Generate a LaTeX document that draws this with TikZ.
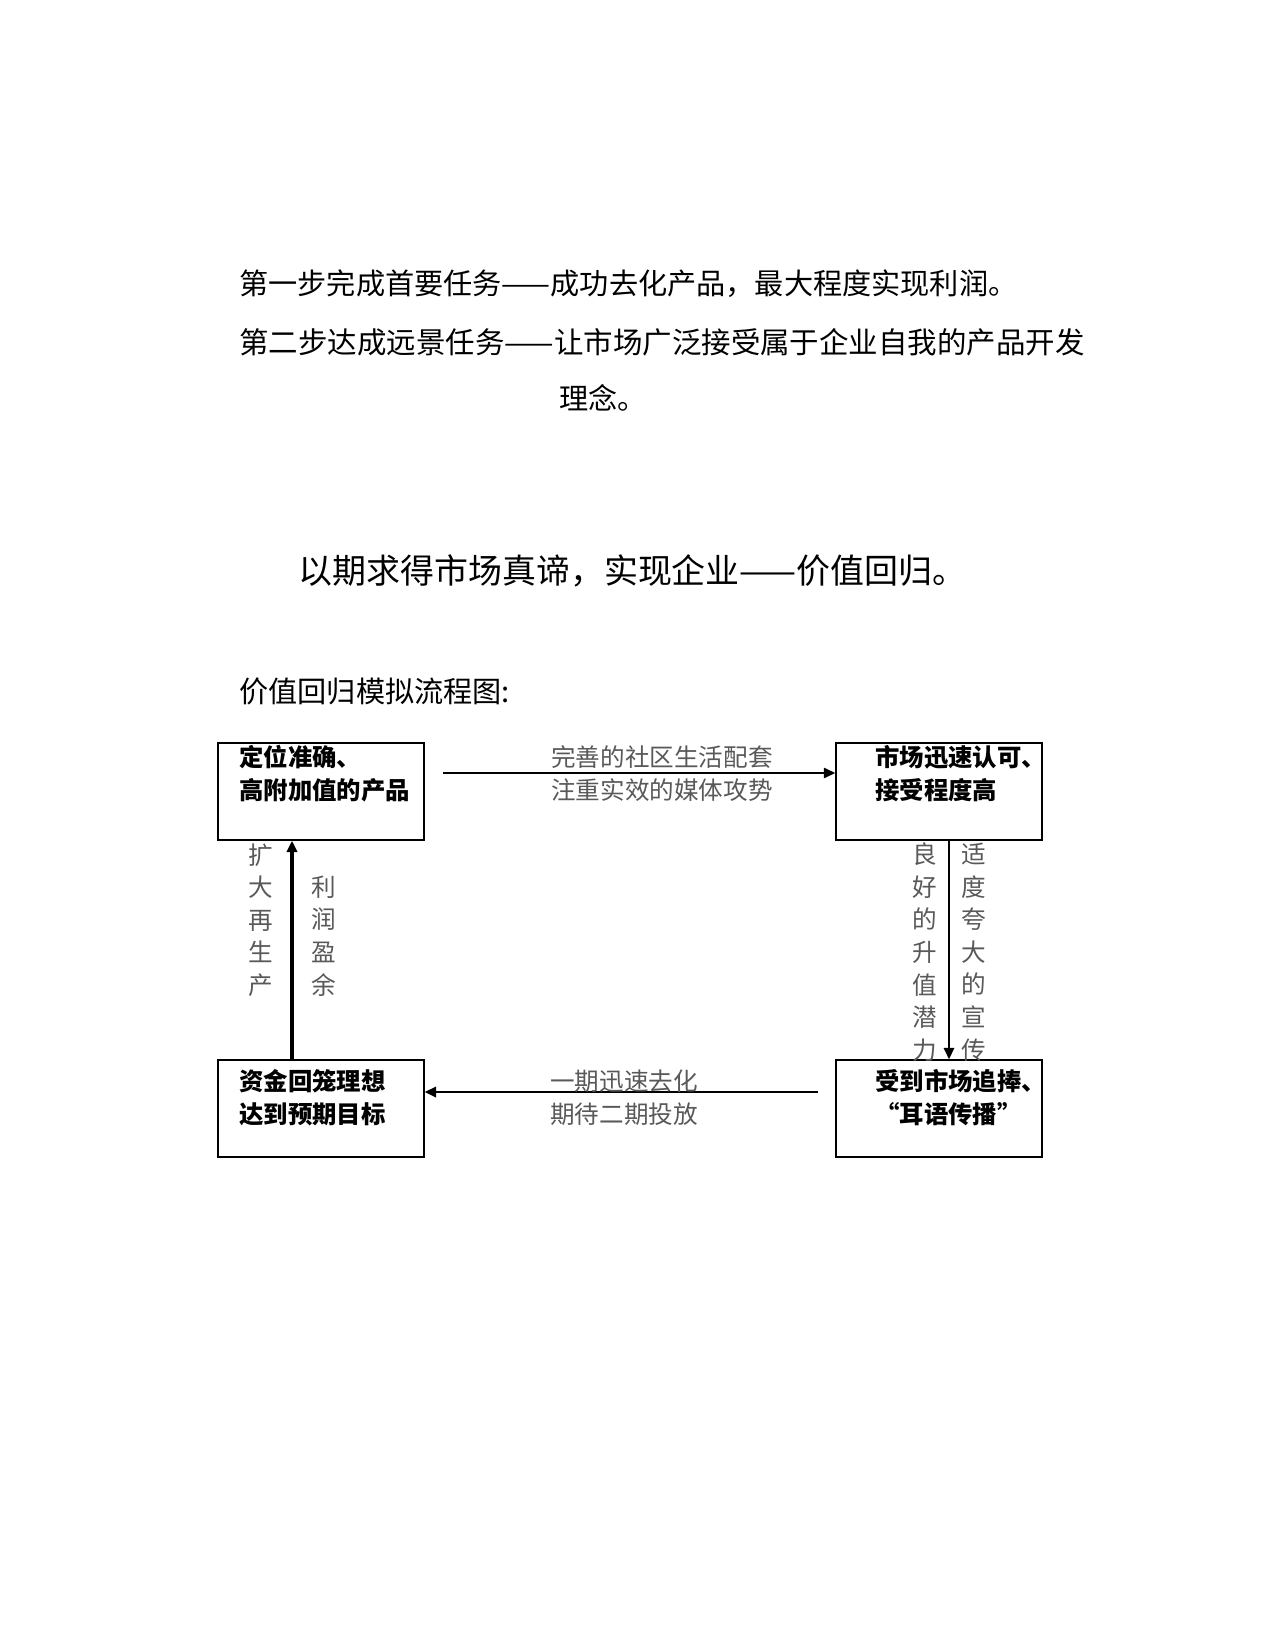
\documentclass[tikz,border=0pt]{standalone}
\usepackage{fontspec}
\newfontfamily\cjk{Noto Sans CJK SC}
\usetikzlibrary{arrows.meta}
\begin{document}
\begin{tikzpicture}[x=0.48pt,y=-0.48pt,
  box/.style={draw,line width=0.7pt,minimum width=206*0.48pt,minimum height=97*0.48pt,inner sep=0pt},
  boxtxt/.style={anchor=west,inner sep=0pt,align=left,font={\cjk\bfseries\fontsize{11.7}{15.8}\selectfont}},
  para/.style={anchor=west,inner sep=0pt,font={\cjk\fontsize{14}{17}\selectfont}},
  elabel/.style={inner sep=0pt,text=black!65,font={\cjk\fontsize{11.8}{15.8}\selectfont},align=center},
  vlabel/.style={inner sep=0pt,text=black!65,font={\cjk\fontsize{11.8}{15.65}\selectfont},align=center},
  tip/.style={-{Triangle[length=5.5pt,width=5pt]}}
]
\useasboundingbox (0,0) rectangle (1275,1650);
% paragraph text
\node[para] (p1) at (239,284) {第一步完成首要任务——成功去化产品，最大程度实现利润。};
\node[para,font={\cjk\fontsize{14.15}{17}\selectfont}] (p2) at (239,342) {第二步达成远景任务——让市场广泛接受属于企业自我的产品开发};
\node[para] (p3) at (559,398) {理念。};
\node[para,font={\cjk\fontsize{16.3}{19}\selectfont}] (p4) at (298,571) {以期求得市场真谛，实现企业——价值回归。};
\node[para] (p5) at (239,691) {价值回归模拟流程图:};
% boxes
\node[box] (tl) at (321,791.5) {};
\node[box] (tr) at (939,791.5) {};
\node[box] (bl) at (321,1108.5) {};
\node[box] (br) at (939,1108.5) {};
\node[boxtxt] (tlt1) at (239,757) {定位准确、};
\node[boxtxt] (tlt2) at (239,790) {高附加值的产品};
\node[boxtxt] (trt1) at (875,757) {市场迅速认可、};
\node[boxtxt] (trt2) at (875,790) {接受程度高};
\node[boxtxt] (blt1) at (239,1081) {资金回笼理想};
\node[boxtxt] (blt2) at (239,1114) {达到预期目标};
\node[boxtxt] (brt1) at (875,1081) {受到市场追捧、};
\node[boxtxt] (brt2) at (875,1114) {“耳语传播”};
% connectors
\coordinate (a1s) at (443,773);
\draw[tip,line width=0.75pt] (a1s) -- (a1s -| tr.west);
\coordinate (a2s) at (818,1092);
\draw[tip,line width=1.2pt] (a2s) -- (a2s -| bl.east);
\coordinate (a3x) at (292,950);
\draw[tip,line width=1.6pt] (a3x |- bl.north) -- (a3x |- tl.south);
\coordinate (a4x) at (949,950);
\draw[tip,line width=0.9pt] (a4x |- tr.south) -- (a4x |- br.north);
% edge labels
\node[elabel] (l1a) at (662,757) {完善的社区生活配套};
\node[elabel] (l1b) at (662,790) {注重实效的媒体攻势};
\node[elabel] (l2a) at (624,1081) {一期迅速去化};
\node[elabel] (l2b) at (624,1114) {期待二期投放};
\node[vlabel] (l3a) at (261,920) {扩\\大\\再\\生\\产};
\node[vlabel] (l3b) at (324,936) {利\\润\\盈\\余};
\node[vlabel] (l4a) at (925,952) {良\\好\\的\\升\\值\\潜\\力};
\node[vlabel] (l4b) at (974,952) {适\\度\\夸\\大\\的\\宣\\传};
\end{tikzpicture}
\end{document}
